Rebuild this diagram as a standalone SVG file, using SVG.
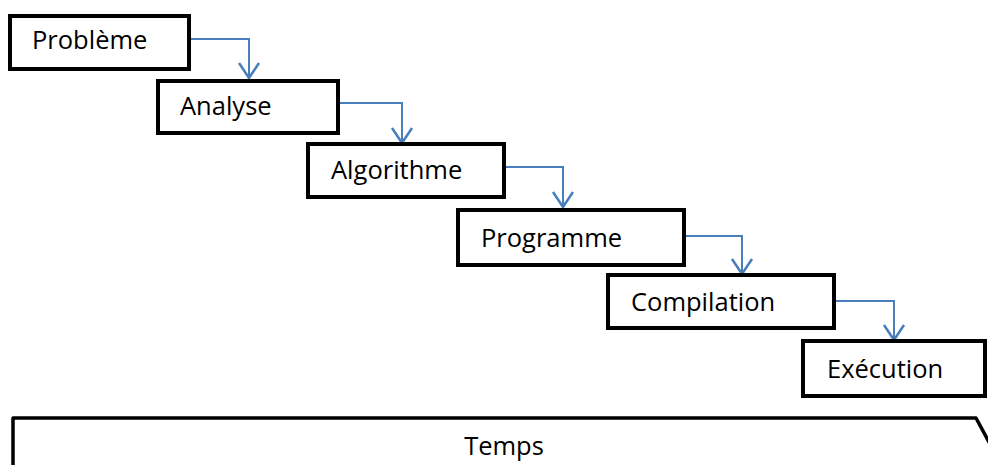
<svg xmlns="http://www.w3.org/2000/svg" width="988" height="465" viewBox="0 0 988 465">
<style>
.box{fill:#fff;stroke:#000;stroke-width:4}
.lbl{font-family:"Open Sans","Liberation Sans",sans-serif;font-size:25.5px;fill:#000}
.con{fill:none;stroke:#4a7ebb;stroke-width:2}
.head{fill:none;stroke:#4a7ebb;stroke-width:2.5}
</style>
<rect width="988" height="465" fill="#fff"/>
<g id="connectors">
<path class="con" d="M190,39 H249 V78"/>
<path class="con" d="M338,103 H402 V143"/>
<path class="con" d="M504,167 H563 V207"/>
<path class="con" d="M685,236 H742 V274"/>
<path class="con" d="M834,301 H894 V340"/>
<path class="head" d="M239,63 L249,78 L259,63"/>
<path class="head" d="M392,128 L402,143 L412,128"/>
<path class="head" d="M553,192 L563,207 L573,192"/>
<path class="head" d="M732,259 L742,274 L752,259"/>
<path class="head" d="M884,325 L894,340 L904,325"/>
</g>
<g id="probleme"><rect class="box" x="10" y="16" width="179" height="53"/><text class="lbl" x="32" y="49">Problème</text></g>
<g id="analyse"><rect class="box" x="158" y="81" width="180" height="52"/><text class="lbl" x="180" y="115">Analyse</text></g>
<g id="algorithme"><rect class="box" x="308" y="144" width="196" height="53"/><text class="lbl" x="331" y="179">Algorithme</text></g>
<g id="programme"><rect class="box" x="458" y="210" width="226" height="55"/><text class="lbl" x="481" y="247">Programme</text></g>
<g id="compilation"><rect class="box" x="608" y="275" width="226" height="53"/><text class="lbl" x="631" y="311">Compilation</text></g>
<g id="execution"><rect class="box" x="803" y="341" width="182" height="55"/><text class="lbl" x="827" y="378">Exécution</text></g>
<g id="temps">
<path d="M13,470 V418 H976 L990,444" fill="none" stroke="#000" stroke-width="3.5" stroke-linejoin="round"/>
<text class="lbl" x="504" y="455" text-anchor="middle">Temps</text>
</g>
</svg>
